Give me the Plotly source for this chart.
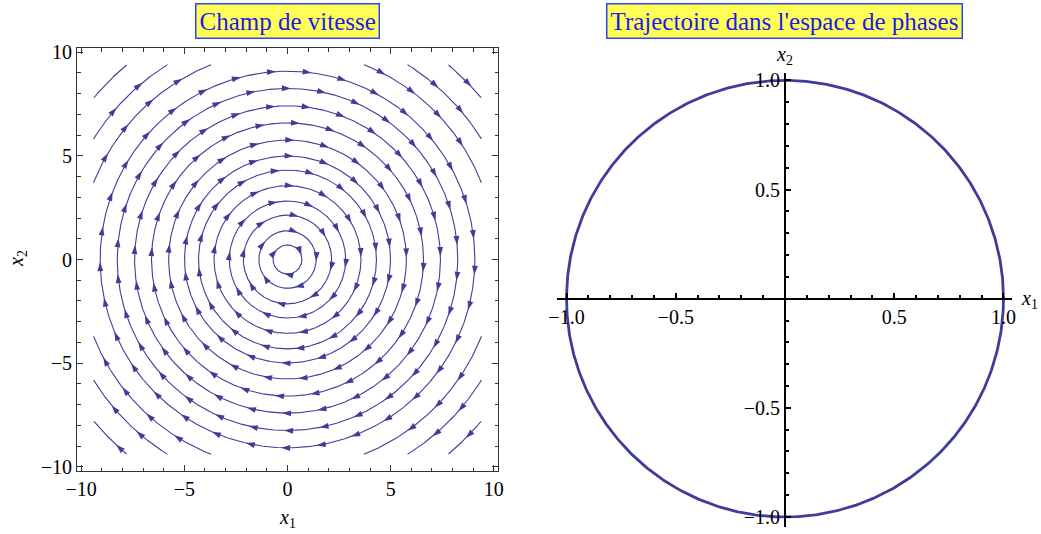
import numpy as np
import plotly.graph_objects as go

# ---------------- data ----------------
# Left panel: streamlines of the velocity field (x1', x2') = (x2, -x1)
stream_radii = [0.70, 1.39, 2.14, 2.82, 3.56, 4.31, 4.99, 5.76, 6.59, 7.41,
                8.25, 9.08, 10.1, 11.05, 12.2]
stream_box = 9.4          # streamlines stop at |x1|, |x2| = 9.4
arrow_spacing = 1.72      # arc length between arrowheads
left_ticks = [-10, -5, 0, 5, 10]

# Right panel: trajectory in phase space
traj_radius = 1.0
right_tickvals = [-1.0, -0.5, 0.5, 1.0]
right_ticktext = ["\u22121.0", "\u22120.5", "0.5", "1.0"]

# ---------------- styling ----------------
W, H = 1041, 534
STREAM = "#3f3d99"
SERIF = "Liberation Serif"

# streamlines
theta = np.linspace(0, 2 * np.pi, 1441)
sx, sy = [], []
ax_, ay_, aang = [], [], []
for i, r in enumerate(stream_radii):
    x = r * np.cos(theta)
    y = r * np.sin(theta)
    ok = (np.abs(x) <= stream_box) & (np.abs(y) <= stream_box)
    prev = False
    for xi, yi, o in zip(x, y, ok):
        if o:
            sx.append(xi); sy.append(yi)
        elif prev:
            sx.append(None); sy.append(None)
        prev = o
    sx.append(None); sy.append(None)
    n = max(3, int(round(2 * np.pi * r / arrow_spacing)))
    phase = 0.9 * i + 0.3
    for k in range(n):
        t = phase + 2 * np.pi * k / n
        px, py = r * np.cos(t), r * np.sin(t)
        if abs(px) <= stream_box - 0.3 and abs(py) <= stream_box - 0.3:
            vx, vy = py, -px
            ax_.append(px); ay_.append(py)
            aang.append(float(np.degrees(np.arctan2(vx, vy))))

tt = np.linspace(0, 2 * np.pi, 721)
cx = traj_radius * np.cos(tt)
cy = traj_radius * np.sin(tt)

fig = go.Figure()
fig.add_trace(go.Scatter(x=sx, y=sy, mode="lines", line=dict(color=STREAM, width=1.1),
                         hoverinfo="skip", showlegend=False, xaxis="x", yaxis="y"))
fig.add_trace(go.Scatter(x=ax_, y=ay_, mode="markers",
                         marker=dict(symbol="arrow", size=9.5, angle=aang, color=STREAM,
                                     line=dict(width=0)),
                         hoverinfo="skip", showlegend=False, xaxis="x", yaxis="y"))
fig.add_trace(go.Scatter(x=cx, y=cy, mode="lines", line=dict(color=STREAM, width=2.8),
                         hoverinfo="skip", showlegend=False, xaxis="x2", yaxis="y2"))

tickfont = dict(family=SERIF, size=20, color="black")
frame_axis = dict(range=[-10.2, 10.2], tickvals=left_ticks, ticks="inside", ticklen=6,
                  tickwidth=1, tickcolor="#333", showline=True, linecolor="#333",
                  linewidth=1, mirror="allticks", showgrid=False, zeroline=False,
                  tickfont=tickfont, automargin=False,
                  minor=dict(dtick=1, tick0=0, ticks="inside", ticklen=3.5,
                             tickcolor="#333", tickwidth=1, showgrid=False))
phase_axis = dict(tickvals=right_tickvals, ticktext=right_ticktext, ticks="inside",
                  ticklen=5, tickwidth=2, tickcolor="black", showline=True,
                  linecolor="black", linewidth=2, showgrid=False, zeroline=False,
                  tickfont=tickfont, anchor="free", automargin=False,
                  minor=dict(dtick=0.1, tick0=0, ticks="inside", ticklen=3,
                             tickcolor="black", tickwidth=1.5, showgrid=False))

fig.update_layout(
    width=W, height=H, autosize=False,
    margin=dict(l=0, r=0, t=0, b=0, pad=0, autoexpand=False),
    paper_bgcolor="white", plot_bgcolor="white",
    xaxis=dict(domain=[77 / W, 498 / W], anchor="y", **frame_axis),
    yaxis=dict(domain=[1 - 471 / H, 1 - 48 / H], anchor="x", **frame_axis),
    xaxis2=dict(domain=[557 / W, 1012 / W], range=[-1.0435, 1.039],
                position=1 - 298.75 / H, **phase_axis),
    yaxis2=dict(domain=[1 - 527 / H, 1 - 73 / H], range=[-1.046, 1.034],
                position=785 / W, **phase_axis),
)

title_style = dict(xref="paper", yref="paper", xanchor="center", yanchor="middle",
                   showarrow=False, bgcolor="#ffff55", bordercolor="#2b44ff",
                   borderwidth=1.5, borderpad=3,
                   font=dict(family=SERIF, size=25, color="#1a1aee"))
lab = dict(xref="paper", yref="paper", showarrow=False,
           font=dict(family=SERIF, size=20, color="black"))
fig.add_annotation(x=287.5 / W, y=1 - 21 / H, text="Champ de vitesse", **title_style)
fig.add_annotation(x=784.5 / W, y=1 - 21 / H, text="Trajectoire dans l'espace de phases",
                   **title_style)
fig.add_annotation(x=287 / W, y=1 - 518 / H, xanchor="center", yanchor="middle",
                   text="<i>x</i><sub>1</sub>", **lab)
fig.add_annotation(x=17 / W, y=1 - 259 / H, xanchor="center", yanchor="middle",
                   textangle=-90, text="<i>x</i><sub>2</sub>", **lab)
fig.add_annotation(x=1019 / W, y=1 - 299 / H, xanchor="left", yanchor="middle",
                   text="<i>x</i><sub>1</sub>", **lab)
fig.add_annotation(x=784 / W, y=1 - 55 / H, xanchor="center", yanchor="middle",
                   text="<i>x</i><sub>2</sub>", **lab)

fig.write_html("out.html", config={"displayModeBar": False},
               post_script="document.body.style.margin='0';")
